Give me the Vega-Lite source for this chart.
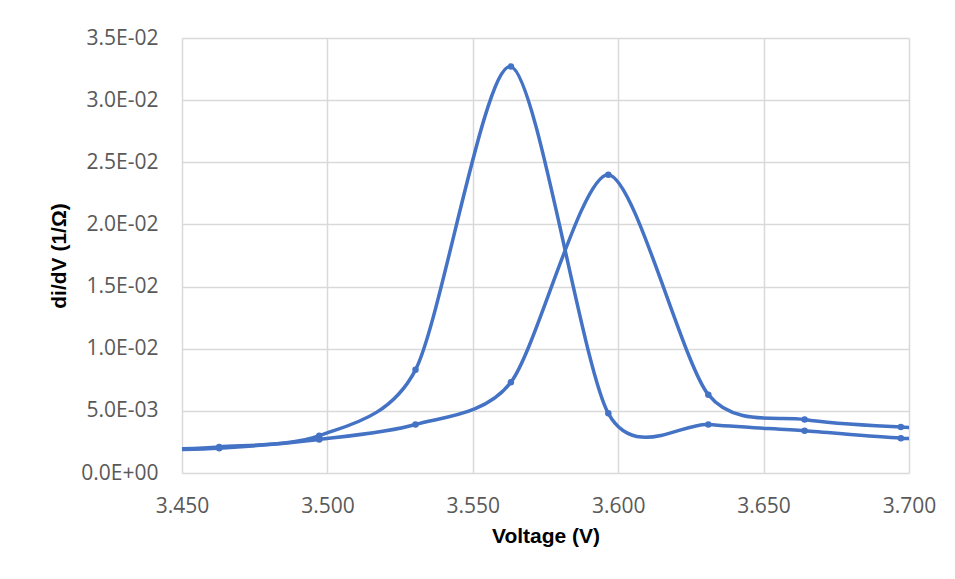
{
  "$schema": "https://vega.github.io/schema/vega-lite/v6.json",
  "autosize": "none",
  "width": 727,
  "height": 435,
  "padding": {"left": 182, "top": 38, "right": 46, "bottom": 106},
  "background": "white",
  "config": {"view": {"stroke": null}},
  "data": {
    "values": [
      {"v": 3.4294, "s": "A", "g": 0.0018},
      {"v": 3.4628, "s": "A", "g": 0.0021},
      {"v": 3.4972, "s": "A", "g": 0.0030},
      {"v": 3.5303, "s": "A", "g": 0.0083},
      {"v": 3.5631, "s": "A", "g": 0.0327},
      {"v": 3.5966, "s": "A", "g": 0.0048},
      {"v": 3.6310, "s": "A", "g": 0.0039},
      {"v": 3.6641, "s": "A", "g": 0.0034},
      {"v": 3.6972, "s": "A", "g": 0.0028},
      {"v": 3.7306, "s": "A", "g": 0.0027},
      {"v": 3.4294, "s": "B", "g": 0.0018},
      {"v": 3.4628, "s": "B", "g": 0.0020},
      {"v": 3.4972, "s": "B", "g": 0.0027},
      {"v": 3.5303, "s": "B", "g": 0.0039},
      {"v": 3.5631, "s": "B", "g": 0.0073},
      {"v": 3.5966, "s": "B", "g": 0.0240},
      {"v": 3.6310, "s": "B", "g": 0.0063},
      {"v": 3.6641, "s": "B", "g": 0.0043},
      {"v": 3.6972, "s": "B", "g": 0.0037},
      {"v": 3.7306, "s": "B", "g": 0.0035}
    ]
  },
  "encoding": {
    "x": {
      "field": "v", "type": "quantitative",
      "scale": {"domain": [3.45, 3.7], "nice": false, "zero": false},
      "axis": {
        "title": "Voltage (V)", "values": [3.45, 3.5, 3.55, 3.6, 3.65, 3.7],
        "format": ".3f", "grid": true, "gridColor": "#d9d9d9", "gridWidth": 1.5,
        "domain": false, "ticks": false, "labelPadding": 22, "labelFlush": false, "labelOverlap": false,
        "labelFont": "Open Sans", "labelFontSize": 21, "labelColor": "#595959",
        "titleFont": "Liberation Sans", "titleFontSize": 21, "titleFontWeight": "bold",
        "titleColor": "#000000", "titlePadding": 9
      }
    },
    "y": {
      "field": "g", "type": "quantitative",
      "scale": {"domain": [0, 0.035], "nice": false},
      "axis": {
        "title": "di/dV (1/Ω)", "values": [0, 0.005, 0.01, 0.015, 0.02, 0.025, 0.03, 0.035],
        "labelExpr": "datum.value == 0 ? '0.0E+00' : format(datum.value / pow(10, floor(log(datum.value) / LN10 + 1e-9)), '.1f') + 'E-0' + (-floor(log(datum.value) / LN10 + 1e-9))",
        "grid": true, "gridColor": "#d9d9d9", "gridWidth": 1.5,
        "domain": false, "ticks": false, "labelPadding": 24, "labelOverlap": false,
        "labelFont": "Open Sans", "labelFontSize": 21, "labelColor": "#595959",
        "titleFont": "Liberation Sans", "titleFontSize": 21, "titleFontWeight": "bold",
        "titleColor": "#000000", "titlePadding": 11
      }
    },
    "detail": {"field": "s"}
  },
  "layer": [
    {"mark": {"type": "line", "interpolate": "cardinal", "tension": 0.2, "color": "#4472C4", "strokeWidth": 3.5, "clip": true}},
    {"mark": {"type": "circle", "color": "#4472C4", "size": 42, "opacity": 1, "clip": true}}
  ]
}
